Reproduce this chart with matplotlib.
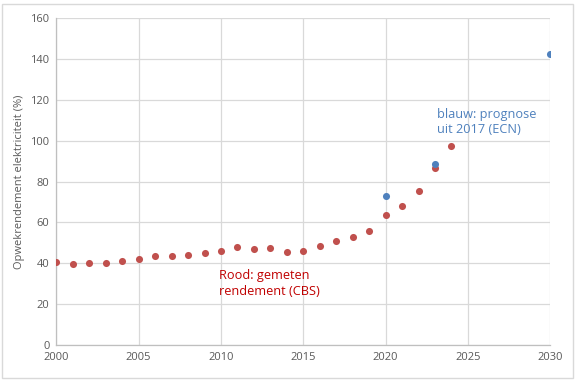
import matplotlib
matplotlib.use("Agg")
import matplotlib.pyplot as plt
from matplotlib.patches import Rectangle

plt.rcParams['font.family'] = ['Open Sans', 'DejaVu Sans']

red_years = [2000, 2001, 2002, 2003, 2004, 2005, 2006, 2007, 2008, 2009, 2010,
             2011, 2012, 2013, 2014, 2015, 2016, 2017, 2018, 2019, 2020, 2021,
             2022, 2023, 2024]
red_values = [40.6, 39.6, 40.1, 40.1, 41.1, 42.0, 43.5, 43.5, 44.3, 45.0, 46.0,
              48.0, 47.0, 47.5, 45.5, 46.0, 48.5, 51.0, 53.0, 56.0, 63.6, 68.0,
              75.3, 86.6, 97.4]
blue_years = [2020, 2023, 2030]
blue_values = [72.9, 88.5, 142.4]

xticks = [2000, 2005, 2010, 2015, 2020, 2025, 2030]
yticks = [0, 20, 40, 60, 80, 100, 120, 140, 160]
ylabel = "Opwekrendement elektriciteit (%)"
blue_label = "blauw: prognose\nuit 2017 (ECN)"
red_label = "Rood: gemeten\nrendement (CBS)"

fig = plt.figure(figsize=(5.75, 3.83), dpi=100)
ax = fig.add_axes([0.098, 0.099, 0.859, 0.854])

ax.scatter(red_years, red_values, s=26, color="#C0504D", zorder=3, linewidths=0)
ax.scatter(blue_years, blue_values, s=26, color="#4F81BD", zorder=3, linewidths=0)

ax.set_xlim(2000, 2030)
ax.set_ylim(0, 160)
ax.set_xticks(xticks)
ax.set_yticks(yticks)
ax.grid(True, color="#D9D9D9", linewidth=0.9, zorder=0)
ax.set_axisbelow(True)
for s in ["top", "right"]:
    ax.spines[s].set_visible(False)
for s in ["left", "bottom"]:
    ax.spines[s].set_color("#BFBFBF")
    ax.spines[s].set_linewidth(0.9)
ax.tick_params(length=0, labelsize=8, colors="#595959", pad=5)
ax.set_ylabel(ylabel, fontsize=8, color="#595959", labelpad=4)

ax.text(2023.1, 116, blue_label, color="#4F81BD", fontsize=9.2,
        va="top", ha="left", linespacing=1.25)
ax.text(2009.9, 37, red_label, color="#C00000", fontsize=9.2,
        va="top", ha="left", linespacing=1.25)

fig.patches.append(Rectangle((0.003, 0.012), 0.994, 0.978, transform=fig.transFigure,
                             fill=False, edgecolor="#D9D9D9", linewidth=1))

fig.savefig("out.png", dpi=100)
